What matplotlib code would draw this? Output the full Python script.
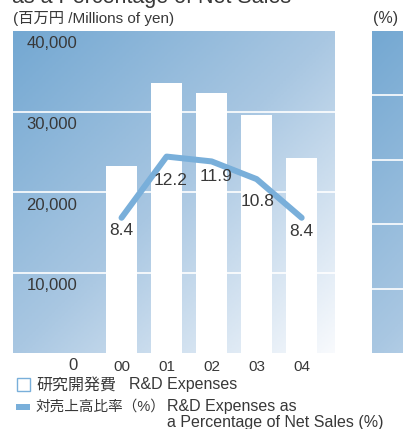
import numpy as np
import matplotlib
matplotlib.use("Agg")
import matplotlib.pyplot as plt
from matplotlib.patches import Rectangle
from matplotlib.colors import LinearSegmentedColormap

plt.rcParams['font.family'] = ['Liberation Sans', 'Noto Sans CJK JP', 'DejaVu Sans']

# data
years = ['00', '01', '02', '03', '04']
rd_expenses = [23250, 33500, 32250, 29600, 24250]   # millions of yen
rd_ratio = [8.4, 12.2, 11.9, 10.8, 8.4]             # % of net sales
yen_ticks = [10000, 20000, 30000, 40000]
pct_grid = [4, 8, 12, 16]
label_offsets = [(0, -13), (4, -24), (4, -15), (1, -22), (0, -14)]  # px

W, H = 403, 429
TXT = '#383838'
LINE = '#79afda'
cmap = LinearSegmentedColormap.from_list('bg', ['#74a8d2', '#a9c7e2', '#f8fafd'])


def fx(px):
    return px / W


def fy(py):
    return 1 - py / H


def pt(px):
    return px * 72 / 100


def gradient(ax, x0, x1):
    xs = np.linspace(x0, x1, 100)
    ys = np.linspace(1, 0, 200)
    X, Y = np.meshgrid(xs, ys)
    t = (X + (1 - Y)) / 2
    ax.imshow(t, cmap=cmap, vmin=0, vmax=1, extent=[0, 1, 0, 1],
              transform=ax.transAxes, aspect='auto', zorder=0)


fig = plt.figure(figsize=(W / 100, H / 100), dpi=100)

# main panel
ax = fig.add_axes([fx(13), fy(353), fx(335 - 13), (353 - 31) / H])
x = np.arange(len(years))
gradient(ax, 0, 1)
ax.set_xlim(-2.41, 4.74)
ax.set_ylim(0, 40000)
for v in yen_ticks[:-1]:
    ax.axhline(v, color='white', lw=1.2, zorder=1)
ax.bar(x, rd_expenses, width=0.69, color='white', zorder=2)
ax.axis('off')

for v in [0] + yen_ticks:
    ax.annotate(f'{v:,}', xy=(0.2, v), xycoords=('axes fraction', 'data'),
                xytext=(0, pt(-13)), textcoords='offset points',
                ha='right', va='center', fontsize=12, color=TXT)
for xi, lab in zip(x, years):
    ax.annotate(lab, xy=(xi, 0), xycoords=('data', 'axes fraction'),
                xytext=(0, pt(-14)), textcoords='offset points',
                ha='center', va='center', fontsize=11, color=TXT)

ax2 = ax.twinx()
ax2.set_ylim(0, 20)
ax2.axis('off')
ax2.plot(x, rd_ratio, color=LINE, lw=pt(6), solid_capstyle='round',
         solid_joinstyle='round', zorder=3)
for xi, v, (dx, dy) in zip(x, rd_ratio, label_offsets):
    ax2.annotate(f'{v}', xy=(xi, v), xytext=(pt(dx), pt(dy)),
                 textcoords='offset points', ha='center', va='center',
                 fontsize=12.5, color=TXT, zorder=4)

# right % strip
ax3 = fig.add_axes([fx(372), fy(353), fx(W - 372), (353 - 31) / H])
gradient(ax3, 0, 0.1)
ax3.set_ylim(0, 20)
ax3.set_xlim(0, 1)
for v in pct_grid:
    ax3.axhline(v, color='white', lw=1.2, zorder=1)
ax3.axis('off')

# header texts
fig.text(fx(12), fy(3), 'as a Percentage of Net Sales', fontsize=15.5,
         color=TXT, ha='left', va='baseline')
fig.text(fx(13), fy(19), '(百万円 /Millions of yen)', fontsize=11,
         color=TXT, ha='left', va='center')
fig.text(fx(373), fy(19), '(%)', fontsize=11.5, color=TXT, ha='left', va='center')

# legend
fig.patches.append(Rectangle((fx(16.5), fy(391)), fx(13), 13 / H,
                             transform=fig.transFigure, facecolor='white',
                             edgecolor=LINE, lw=1))
fig.patches.append(Rectangle((fx(16), fy(410)), fx(14), 6 / H,
                             transform=fig.transFigure, facecolor=LINE,
                             edgecolor='none'))
fig.text(fx(36), fy(385), '研究開発費', fontsize=11.5,
         color=TXT, ha='left', va='center')
fig.text(fx(129), fy(385), 'R&D Expenses', fontsize=11.5,
         color=TXT, ha='left', va='center')
fig.text(fx(36), fy(407), '対売上高比率（%）', fontsize=10.5,
         color=TXT, ha='left', va='center')
fig.text(fx(167), fy(407), 'R&D Expenses as', fontsize=11.5,
         color=TXT, ha='left', va='center')
fig.text(fx(167), fy(422), 'a Percentage of Net Sales (%)', fontsize=11.5,
         color=TXT, ha='left', va='center')

fig.savefig('out.png', dpi=100)
